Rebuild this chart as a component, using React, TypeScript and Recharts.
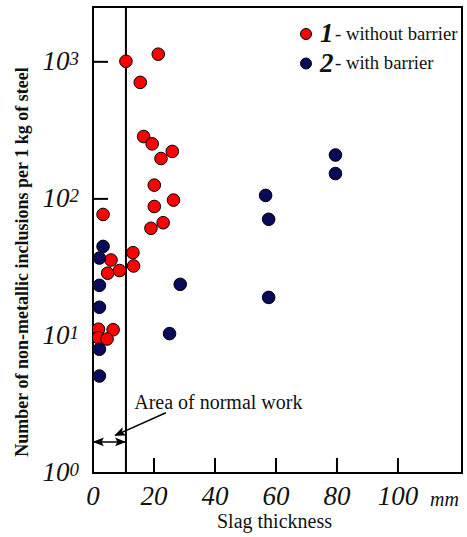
import { ScatterChart, Scatter, XAxis, YAxis, ReferenceLine, ReferenceArea, ReferenceDot, Legend } from 'recharts';

const serif = '"Liberation Serif", "Times New Roman", serif';

// 1 - without barrier
const noBarrierThickness = [10.8, 21.4, 15.5, 16.6, 19.4, 26.0, 22.3, 20.1, 20.1, 26.4, 19.0, 23.0, 3.3, 13.1, 13.3, 5.9, 4.8, 8.7, 1.8, 6.6, 1.8, 4.6];
const noBarrierCount = [1010, 1137, 708, 285, 252, 222, 197, 126, 88, 98, 61, 67, 77, 40.5, 32.4, 35.8, 28.7, 30, 11.2, 11.1, 9.7, 9.5];

// 2 - with barrier
const barrierThickness = [3.3, 2.1, 2.1, 2.1, 2.1, 2.1, 28.6, 25.1, 79.5, 79.5, 56.6, 57.6, 57.6];
const barrierCount = [45, 37, 23.4, 16.2, 8.0, 5.1, 23.8, 10.4, 209, 153, 106, 71, 19.1];

const xTicks = [0, 20, 40, 60, 80, 100];
const yTicks = [1, 10, 100, 1000];
const yExp: Record<number, string> = { 1: '0', 10: '1', 100: '2', 1000: '3' };

const normalWorkLimit = 10.8;

const noBarrier = noBarrierThickness.map((x, i) => ({ x, y: noBarrierCount[i] }));
const barrier = barrierThickness.map((x, i) => ({ x, y: barrierCount[i] }));

const RED = '#ff0000';
const NAVY = '#0a0a5c';

function Dot(props: any) {
  return <circle cx={props.cx} cy={props.cy} r={6.3} fill={props.fill} stroke="#000" strokeWidth={1} />;
}

function XTick({ x, y, payload }: any) {
  return (
    <text x={x} y={y} dy={18} textAnchor="middle" fontFamily={serif} fontStyle="italic" fontSize={27} fill="#111">
      {payload.value}
    </text>
  );
}

function YTick({ x, y, payload }: any) {
  return (
    <text x={x} y={y} dy={8} textAnchor="end" fontFamily={serif} fontStyle="italic" fill="#111">
      <tspan fontSize={27}>10</tspan>
      <tspan fontSize={19} dy={-5}>{yExp[payload.value]}</tspan>
    </text>
  );
}

function XLabel({ viewBox }: any) {
  const { x, y, width } = viewBox;
  return (
    <g>
      <text x={x + width / 2 - 3} y={y + 55} textAnchor="middle" fontFamily={serif} fontSize={20} fill="#111">
        Slag thickness
      </text>
      <text x={x + width - 3} y={y + 33} textAnchor="end" fontFamily={serif} fontStyle="italic" fontSize={20} fill="#111">
        mm
      </text>
    </g>
  );
}

function YLabel({ viewBox }: any) {
  const cx = 22;
  const cy = viewBox.y + viewBox.height / 2 + 22;
  return (
    <text x={cx} y={cy} transform={`rotate(-90 ${cx} ${cy})`} textAnchor="middle" dominantBaseline="central"
      fontFamily={serif} fontWeight="bold" fontSize={18} fill="#111">
      Number of non-metallic inclusions per 1 kg of steel
    </text>
  );
}

function LegendBox() {
  const rows = [
    { n: '1', text: '- without barrier', color: RED },
    { n: '2', text: '- with barrier', color: NAVY },
  ];
  return (
    <svg width={172} height={66} style={{ overflow: 'visible', display: 'block' }}>
      {rows.map((r, i) => (
        <g key={r.n} transform={`translate(0, ${i * 29.5 + 4})`}>
          <circle cx={11} cy={14} r={5.5} fill={r.color} stroke="#000" strokeWidth={1} />
          <text x={25} y={22} fontFamily={serif} fontStyle="italic" fontWeight="bold" fontSize={27} fill="#111">{r.n}</text>
          <text x={40} y={19.5} fontFamily={serif} fontSize={18.7} fill="#111">{r.text}</text>
        </g>
      ))}
    </svg>
  );
}

export default function App() {
  return (
    <div style={{ position: 'absolute', left: 0, top: 0, background: '#fff' }}>
      <svg width={0} height={0} style={{ position: 'absolute' }}>
        <defs>
          <marker id="arrowHead" viewBox="0 0 10 10" refX={9} refY={5} markerWidth={11} markerHeight={11}
            markerUnits="userSpaceOnUse" orient="auto-start-reverse">
            <path d="M0,1 L10,5 L0,9 L2,5 Z" fill="#000" />
          </marker>
        </defs>
      </svg>
      <ScatterChart width={467} height={537} margin={{ top: 7, right: 5, bottom: 0, left: 0 }}>
        <XAxis
          type="number"
          dataKey="x"
          domain={[0, 121]}
          ticks={xTicks}
          allowDataOverflow
          height={64}
          axisLine={{ stroke: '#000', strokeWidth: 2 }}
          tickLine={{ stroke: '#000', strokeWidth: 2 }}
          tickSize={-15}
          tickMargin={29}
          tick={<XTick />}
          label={<XLabel />}
        />
        <YAxis
          type="number"
          dataKey="y"
          scale="log"
          domain={[1, 2512]}
          ticks={yTicks}
          allowDataOverflow
          width={93}
          axisLine={{ stroke: '#000', strokeWidth: 2 }}
          tickLine={{ stroke: '#000', strokeWidth: 2 }}
          tickSize={-15}
          tickMargin={29}
          tick={<YTick />}
          label={<YLabel />}
        />
        <ReferenceArea x1={0} x2={121} y1={1} y2={2512} fill="none" stroke="#000" strokeWidth={2} ifOverflow="visible" />
        <ReferenceLine x={normalWorkLimit} stroke="#000" strokeWidth={2} />
        <ReferenceLine
          segment={[{ x: 0.3, y: 1.685 }, { x: normalWorkLimit - 0.3, y: 1.685 }]}
          stroke="#000"
          strokeWidth={1.5}
          markerStart="url(#arrowHead)"
          markerEnd="url(#arrowHead)"
        />
        <ReferenceLine
          segment={[{ x: 23.9, y: 2.75 }, { x: 7.3, y: 1.88 }]}
          stroke="#000"
          strokeWidth={1.5}
          markerEnd="url(#arrowHead)"
        />
        <ReferenceDot
          x={41.1}
          y={3.31}
          r={0}
          fill="none"
          stroke="none"
          label={{ value: 'Area of normal work', position: 'center', fontFamily: serif, fontSize: 20, fill: '#111' }}
        />
        <Legend
          layout="vertical"
          verticalAlign="middle"
          align="center"
          wrapperStyle={{ left: 295, top: 16, width: 172 }}
          content={() => <LegendBox />}
        />
        <Scatter name="1" data={noBarrier} fill={RED} shape={<Dot />} isAnimationActive={false} />
        <Scatter name="2" data={barrier} fill={NAVY} shape={<Dot />} isAnimationActive={false} />
      </ScatterChart>
    </div>
  );
}
